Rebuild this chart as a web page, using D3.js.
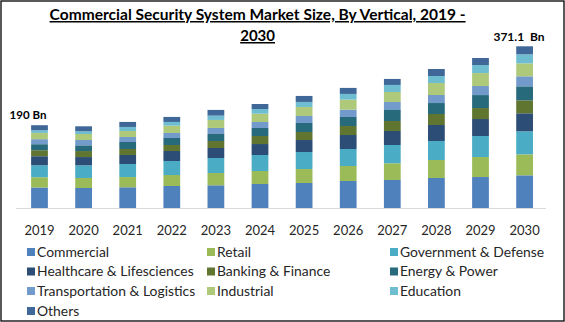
<!DOCTYPE html>
<html>
<head>
<meta charset="utf-8">
<script src="https://cdn.jsdelivr.net/npm/d3@7"></script>
<style>
  html, body { margin: 0; padding: 0; background: #fff; }
  svg { display: block; }
</style>
</head>
<body>
<script>
const years = ["2019","2020","2021","2022","2023","2024","2025","2026","2027","2028","2029","2030"];
const seriesNames = ["Commercial","Retail","Government & Defense","Healthcare & Lifesciences","Banking & Finance","Energy & Power","Transportation & Logistics","Industrial","Education","Others"];
const commercial     = [47.0, 45.9, 47.5, 50.5, 52.1, 55.1, 57.4, 62.0, 64.3, 68.9, 71.1, 75.0];
const retail         = [23.6, 23.0, 23.6, 25.2, 28.2, 29.8, 32.1, 34.4, 38.3, 41.3, 45.9, 48.2];
const government     = [27.5, 29.0, 29.8, 32.1, 34.4, 36.7, 39.0, 39.0, 42.0, 43.6, 48.2, 52.8];
const healthcare     = [20.7, 19.0, 20.7, 23.0, 23.0, 25.2, 27.5, 32.1, 32.1, 36.7, 39.0, 41.3];
const banking        = [13.8, 13.8, 13.8, 13.8, 16.1, 18.4, 18.4, 20.7, 23.0, 25.2, 25.2, 29.8];
const energy         = [13.8, 13.1, 16.1, 16.1, 16.1, 18.4, 20.7, 20.7, 25.2, 25.2, 29.8, 32.1];
const transportation = [11.5, 12.2, 11.5, 11.5, 13.8, 13.8, 16.1, 16.8, 18.4, 18.4, 20.7, 23.0];
const industrial     = [14.5, 13.8, 13.8, 16.8, 18.4, 19.0, 20.7, 23.0, 23.0, 27.5, 29.8, 29.8];
const education      = [6.1, 6.2, 9.2, 8.5, 9.9, 10.8, 11.5, 13.1, 16.1, 16.1, 18.4, 20.7];
const others         = [11.5, 11.5, 11.5, 11.5, 13.1, 11.5, 13.8, 13.8, 13.8, 16.1, 16.1, 18.4];
const colors = ["#4f81bd","#9bbb59","#4bacc6","#2c4d75","#5f7530","#276a7c","#729aca","#afc97a","#6fbdd1","#3f6797"];
const annotations = [{year: "2019", label: "190 Bn"}, {year: "2030", label: "371.1  Bn"}];
const titleLines = ["Commercial Security System Market Size, By Vertical, 2019 -", "2030"];

const allSeries = [commercial, retail, government, healthcare, banking, energy, transportation, industrial, education, others];
const table = years.map((y, i) => {
  const row = {year: y};
  seriesNames.forEach((s, k) => row[s] = allSeries[k][i]);
  return row;
});

const W = 565, H = 322;
const svg = d3.select("body").append("svg").attr("width", W).attr("height", H);
svg.append("rect").attr("x", 0).attr("y", 0).attr("width", W).attr("height", H).attr("fill", "#fff");
svg.append("rect").attr("x", 1).attr("y", 1).attr("width", W - 2).attr("height", H - 2)
  .attr("fill", "none").attr("stroke", "#000").attr("stroke-width", 1.3);

const x = d3.scaleBand().domain(years).range([17.45, 546.65]).paddingInner(0.62).paddingOuter(0.31);
const y = d3.scaleLinear().domain([0, 400]).range([208, 208 - 400 / 2.295]);

const stack = d3.stack().keys(seriesNames);
const layers = stack(table);

svg.append("g").selectAll("g").data(layers).join("g")
  .attr("fill", (d, i) => colors[i])
  .selectAll("rect").data(d => d).join("rect")
  .attr("x", d => x(d.data.year))
  .attr("width", x.bandwidth())
  .attr("y", d => y(d[1]))
  .attr("height", d => y(d[0]) - y(d[1]));

// axis
const xAxis = svg.append("g").attr("transform", `translate(0,${y(0) + 0.5})`)
  .call(d3.axisBottom(x).tickSize(0).tickPadding(17));
xAxis.select(".domain").attr("stroke", "#d9d9d9").attr("d", "M16,0H546");
xAxis.selectAll("text").attr("font-family", "Lato, sans-serif").attr("font-size", 13).attr("fill", "#262626");

// annotations
const annot = svg.append("g");
annot.append("text")
  .attr("x", x("2019") + x.bandwidth() / 2 - 11.5).attr("y", y(190) - 6)
  .attr("text-anchor", "middle").attr("font-family", "Lato, sans-serif").attr("font-weight", "bold")
  .attr("font-size", 11.5).attr("fill", "#000").text(annotations[0].label);
annot.append("text")
  .attr("x", x("2030") + x.bandwidth() / 2 - 5.6).attr("y", y(371.1) - 5)
  .attr("text-anchor", "middle").attr("font-family", "Lato, sans-serif").attr("font-weight", "bold")
  .attr("font-size", 12).attr("fill", "#000").style("white-space", "pre").text(annotations[1].label);

// title
const title = svg.append("g").attr("font-family", "Lato, sans-serif").attr("font-weight", "bold")
  .attr("font-size", 15).attr("fill", "#000").attr("text-anchor", "middle");
title.append("text").attr("x", 257.6).attr("y", 20).style("text-decoration", "underline")
  .attr("textLength", 416).attr("lengthAdjust", "spacingAndGlyphs").text(titleLines[0]);
title.append("text").attr("x", 257.6).attr("y", 41).style("text-decoration", "underline").text(titleLines[1]);

// legend
const colX = [27, 207, 390];
const rowY = [252, 271.5, 291, 311];
const leg = svg.append("g");
seriesNames.forEach((s, i) => {
  const cx = colX[i % 3], cy = rowY[Math.floor(i / 3)];
  leg.append("rect").attr("x", cx).attr("y", cy - 4).attr("width", 8).attr("height", 8).attr("fill", colors[i]);
  leg.append("text").attr("x", cx + 10).attr("y", cy).attr("dy", "0.35em")
    .attr("font-family", "Lato, sans-serif").attr("font-size", 13.9).attr("fill", "#262626").text(s);
});
</script>
</body>
</html>
